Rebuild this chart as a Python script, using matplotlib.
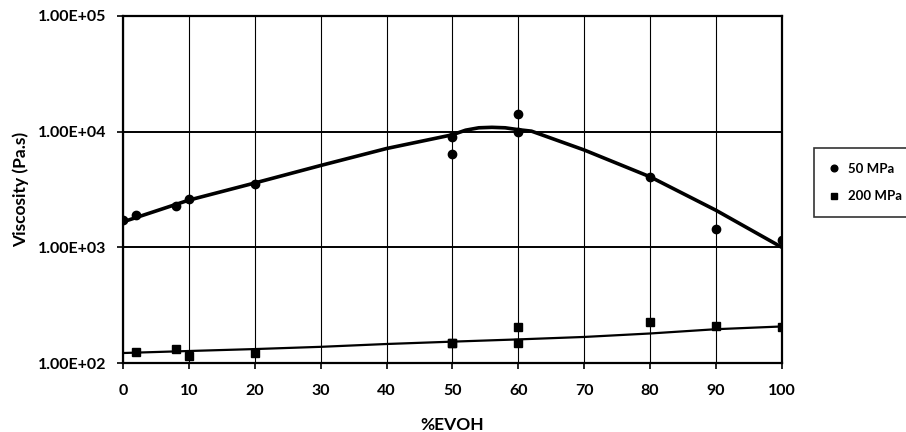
import matplotlib
matplotlib.use("Agg")
import matplotlib.pyplot as plt
import matplotlib.ticker as mticker

plt.rcParams['font.family'] = ['Lato', 'DejaVu Sans']
plt.rcParams['font.weight'] = 'bold'

# measured points, 50 MPa
evoh_50 = [0, 2, 8, 10, 20, 50, 50, 60, 60, 80, 90, 100]
visc_50 = [1720, 1920, 2290, 2610, 3500, 9060, 6410, 14150, 10000, 4070, 1440, 1150]

# measured points, 200 MPa
evoh_200 = [2, 8, 10, 20, 50, 50, 60, 60, 80, 90, 100]
visc_200 = [124, 131, 114, 121, 150, 149, 205, 150, 225, 209, 205]

# trend curves
fit_x_50 = [0, 10, 20, 30, 40, 50, 52, 54, 56, 58, 60, 62, 70, 80, 90, 100]
fit_y_50 = [1660, 2560, 3600, 5100, 7150, 9400, 10300, 10800, 10900, 10800, 10400, 10100, 6940, 4070, 2090, 1000]

fit_x_200 = [0, 10, 20, 30, 40, 50, 60, 70, 80, 90, 100]
fit_y_200 = [122, 127, 132, 138, 146, 153, 160, 168, 180, 196, 207]

x_ticks = [0, 10, 20, 30, 40, 50, 60, 70, 80, 90, 100]
y_ticks = [1e2, 1e3, 1e4, 1e5]


def sci_label(v, pos):
    return "{:.2E}".format(v)


fig = plt.figure(figsize=(9.06, 4.32), dpi=100)
ax = fig.add_axes([0.1358, 0.1597, 0.7272, 0.8033])

ax.plot(fit_x_50, fit_y_50, color='black', lw=2.6, zorder=3)
ax.plot(fit_x_200, fit_y_200, color='black', lw=1.6, zorder=3)
ax.plot(evoh_50, visc_50, 'o', color='black', ms=6, label='50 MPa', zorder=4)
ax.plot(evoh_200, visc_200, 's', color='black', ms=6, label='200 MPa', zorder=4)

ax.set_yscale('log')
ax.set_xlim(0, 100)
ax.set_ylim(1e2, 1e5)
ax.set_xticks(x_ticks)
ax.set_yticks(y_ticks)
ax.yaxis.set_major_formatter(mticker.FuncFormatter(sci_label))
ax.yaxis.set_minor_locator(mticker.NullLocator())

ax.grid(axis='x', color='black', lw=0.8)
ax.grid(axis='y', color='black', lw=1.4)
ax.set_axisbelow(True)
for s in ax.spines.values():
    s.set_linewidth(1.6)

ax.tick_params(direction='out', length=4, width=1.2, labelsize=11.5)
ax.tick_params(axis='x', pad=11)
ax.tick_params(axis='y', pad=8)
ax.set_xlabel('%EVOH', fontsize=12.5, fontweight='bold', labelpad=14)
ax.set_ylabel('Viscosity (Pa.s)', fontsize=12.5, fontweight='bold', labelpad=6)

leg = fig.legend(loc='center left', bbox_to_anchor=(814 / 906, 1 - 182.5 / 432),
                 fontsize=9.5, frameon=True, fancybox=False, edgecolor='black',
                 handlelength=0.8, handletextpad=0.7, borderpad=1.1,
                 labelspacing=1.2, markerscale=0.8, borderaxespad=0)
leg.get_frame().set_linewidth(1.2)

fig.savefig('out.png', dpi=100)
